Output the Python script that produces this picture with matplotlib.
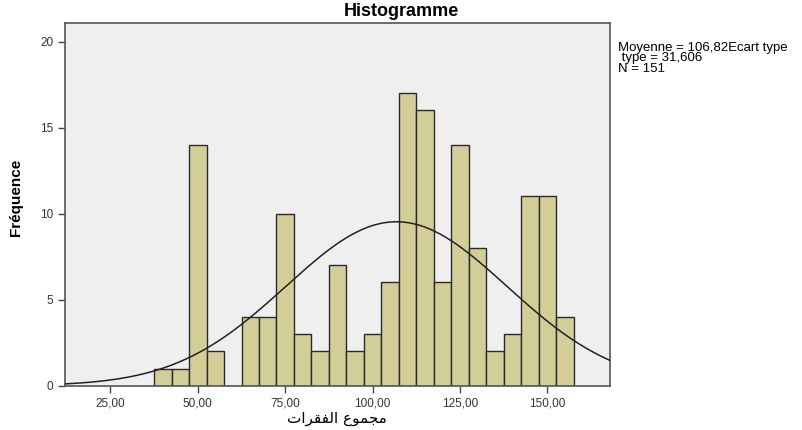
import numpy as np
from matplotlib import pyplot as plt

# histogram bins (width 5) and counts
bin_edges = [37.5 + 5 * i for i in range(25)]
counts = [1, 1, 14, 2, 0, 4, 4, 10, 3, 2, 7, 2, 3, 6, 17, 16, 6, 14, 8, 2, 3, 11, 11, 4]
mean = 106.82
std = 31.606
n = 151
x_ticks = [25, 50, 75, 100, 125, 150]
x_tick_labels = ['25,00', '50,00', '75,00', '100,00', '125,00', '150,00']
y_ticks = [0, 5, 10, 15, 20]

# Arabic label in visual order with presentation forms (matplotlib does no shaping)
xlabel_logical = '\uFEE3\uFEA0\uFEE4\uFEEE\uFEC9 \uFE8D\uFEDF\uFED4\uFED8\uFEAE\uFE8D\uFE95'
xlabel_visual = xlabel_logical[::-1]

fig = plt.figure(figsize=(8.03, 4.30), dpi=100)
ax = fig.add_axes([0.081, 0.103, 0.679, 0.843])
ax.set_facecolor('#efefef')

lefts = bin_edges[:-1]
ax.bar(lefts, counts, width=5, align='edge', color='#d3cd97',
       edgecolor='#2a2a2a', linewidth=1.0, zorder=2)

xs = np.linspace(12, 168, 400)
pdf = n * 5 / (std * np.sqrt(2 * np.pi)) * np.exp(-0.5 * ((xs - mean) / std) ** 2)
ax.plot(xs, pdf, color='#222222', linewidth=1.1, zorder=3)

ax.set_xlim(12, 168)
ax.set_ylim(0, 21.07)
ax.set_xticks(x_ticks)
ax.set_xticklabels(x_tick_labels, fontsize=8.5, color='#333333', family='Liberation Sans')
ax.set_yticks(y_ticks)
ax.set_yticklabels([str(v) for v in y_ticks], fontsize=8.5, color='#333333', family='Liberation Sans')
ax.tick_params(direction='out', length=5, width=1, color='#444444')
for s in ax.spines.values():
    s.set_color('#555555')
    s.set_linewidth(1.2)

fig.text(0.5, 1 - 12 / 430, 'Histogramme', fontsize=13, fontweight='bold',
         family='Liberation Sans', ha='center', va='center')
fig.text(16 / 803, 1 - 197 / 430, 'Fréquence', fontsize=11, fontweight='bold',
         family='Liberation Sans', rotation=90, ha='center', va='center')
fig.text(337 / 803, 1 - 418 / 430, xlabel_visual, fontsize=11, family=['DejaVu Sans'],
         ha='center', va='center')

fig.text(618 / 803, 1 - 42 / 430, 'Moyenne = 106,82Ecart type\n type = 31,606\nN = 151',
         fontsize=9.5, family='Liberation Sans', va='top', ha='left', linespacing=0.82)

plt.savefig('out.png', dpi=100)
